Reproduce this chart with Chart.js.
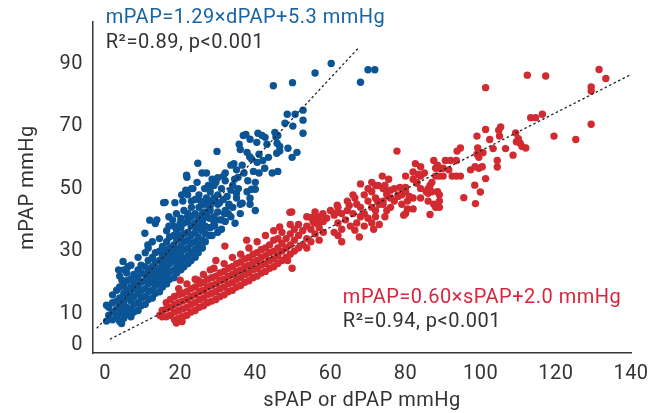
<!DOCTYPE html>
<html>
<head>
<meta charset="utf-8">
<script src="https://cdn.jsdelivr.net/npm/chart.js@4"></script>
<style>
  html, body { margin: 0; padding: 0; background: #fff; }
  #wrap { width: 662px; height: 413px; position: relative; }
</style>
</head>
<body>
<div id="wrap"><canvas id="myChart"></canvas></div>
<script>
// 축 눈금
const xTicks = [0, 20, 40, 60, 80, 100, 120, 140];
const yTicks = [0, 10, 30, 50, 70, 90];

// dPAP vs mPAP (파란 점)
const dpapPoints = [
	// 위쪽 이상치
	[60.2,90],[55.9,87],[68,84],[70,88],[71.8,88],[44.8,82.9],[49.9,83.9],
	[52.7,75.1],[50.6,73.8],[48.5,73.8],[52.7,71.9],[47.9,70.9],[50,70],[52.7,67.7],
	[45.2,68],[46,67],[45.5,66.5],[40.7,67.7],[42.6,66.4],[41.8,67],[36.8,67],[37.5,67.3],
	[35.7,64.2],[38.6,65.8],[40.4,64.8],[43.1,64.2],[46.5,63.5],[46.5,62],[45.8,64.5],
	[48.7,62.9],[51.1,61.6],[49.8,60],[45.7,61.3],[29.8,61.9],[24.7,58.1],
	[37.8,61.6],[39,59.5],[40.5,58.4],[42,59],[43.5,60],[41,61],[38.5,60.2],[36,62.5],
	[34.3,58],[33.5,57.5],[32,55],[25.8,55],[27,55],[21.8,53.6],[35,56],[36.5,57.5],
	[37,55],[39.5,55.5],[41,55],[44.5,55],[46,55.5],[35.4,53.6],[38,52.5],[40,52],[42.5,56.5],
	// 중간 영역
	[26,45],[27,47],[28,49],[28.5,46],[29,51],[30,48],[30.5,45.5],[31,50],[32,52.5],
	[32.5,47.5],[33,45],[33.5,49.5],[34,51],[35,47],[35.5,50],[36.5,45.3],[29.5,52],
	[31.5,46.5],[34.5,53],[27.5,51],[20.7,46],[22,48],[23,50],[24,46.5],[21.5,49.5],
	[16,45.6],[39,49.8],[40,49.8],[38.6,46.9],[40,43],[35,48.5],[37.8,49],[30,53.5],
	[15.6,45.5],[18.6,45.5],[28,44.5],[30,45],[33,44.5],[36,45],[38.6,45],[31.5,54],
	[34.6,38.9],[32.8,42],[13.4,38.8],[13.8,40],[10.6,35.7],[11.4,32],[11.9,39.9],
	[21.7,54.3],[20.4,48],[23.4,50],[25,48],[26.5,50],[24.5,52],[28.5,53],
	[17,38],[18,40],[19,42],[20,39],[21,43],[22,41],[23,44],[24,42],[25,44],
	[26,40],[27,42],[28,43],[29,41],[30,42.5],[31,40],[24,38],[22,36],[20,35],
	[19,37],[17,41],[27,45],[31,37],[32,39.5],[33.5,41],[29,39],[30,36],[28,37.5],
	[25.5,38],[26.5,42.5],[23,46],[25.5,46],[29,47],[32,43],[34,44],[36,42],
	// 아래쪽 밀집 영역
	[0.4,7.6],[0.4,12.7],[3.6,24],[4.8,26.7],[6.1,25],[4.5,20.7],[5.3,9.5],[4.4,6.8],
	[1,9.5],[1,12],
	[2,8],[2,10.5],[2,13.5],[2,16],
	[3.1,9],[3.1,11.5],[3.1,14],[3.1,17.5],
	[3.9,7.5],[3.9,10],[3.9,12.5],[3.9,15],[3.9,18.5],[3.9,22],
	[5,8.5],[5,11],[5,13.5],[5,16.5],[5,19],[5,24],
	[5.8,10],[5.8,12],[5.8,15],[5.8,17.5],[5.8,20.5],[5.8,23],
	[6.9,9],[6.9,11.5],[6.9,14],[6.9,16],[6.9,18.5],[6.9,21],[6.9,25.5],
	[7.7,10.5],[7.7,13],[7.7,15.5],[7.7,18],[7.7,20],[7.7,22.5],
	[8.8,11],[8.8,13.5],[8.8,16.5],[8.8,19],[8.8,21.5],[8.8,24],[8.8,28],
	[9.6,12.5],[9.6,15],[9.6,17.5],[9.6,20],[9.6,23],[9.6,25.5],
	[10.7,13],[10.7,15.5],[10.7,18],[10.7,20.5],[10.7,22.5],[10.7,25],[10.7,29.5],
	[11.5,14.5],[11.5,17],[11.5,19.5],[11.5,21.5],[11.5,24],[11.5,27],[11.5,31],
	[12.6,15],[12.6,17.5],[12.6,20],[12.6,22.5],[12.6,25],[12.6,28],[12.6,33],
	[13.4,16.5],[13.4,19],[13.4,21],[13.4,23.5],[13.4,26.5],[13.4,29.5],
	[14.5,17],[14.5,19.5],[14.5,22],[14.5,24.5],[14.5,27],[14.5,30],[14.5,34],
	[15.3,18.5],[15.3,21],[15.3,23.5],[15.3,26],[15.3,28.5],[15.3,31.5],
	[16.4,19.5],[16.4,22],[16.4,24.5],[16.4,27.5],[16.4,30],[16.4,33],[16.4,36.5],
	[17.2,21],[17.2,23.5],[17.2,26],[17.2,28.5],[17.2,31],[17.2,34.5],
	[18.3,21.5],[18.3,24],[18.3,27],[18.3,29.5],[18.3,32],[18.3,35],[18.3,38],
	[19.1,23],[19.1,25.5],[19.1,28],[19.1,30.5],[19.1,33.5],[19.1,36.5],
	[20.2,24],[20.2,26.5],[20.2,29],[20.2,31.5],[20.2,34],[20.2,37.5],[20.2,40.5],
	[21,25],[21,27.5],[21,30.5],[21,33],[21,35.5],[21,39],
	[22.1,26],[22.1,28.5],[22.1,31],[22.1,33.5],[22.1,36],[22.1,39.5],[22.1,42],
	[22.9,27],[22.9,29.5],[22.9,32.5],[22.9,35],[22.9,38],[22.9,41],
	[24,28],[24,30.5],[24,33],[24,36],[24,39],
	[24.8,29.5],[24.8,32],[24.8,34.5],[24.8,37.5],[24.8,40.5],
	[25.9,31],[25.9,33.5],[25.9,36.5],[25.9,39],[25.9,42],
	[26.7,33],[26.7,35.5],[26.7,38],[26.7,41],
	[27.8,35],[27.8,37.5],[27.8,40.5],[27.8,43],
	[28.5,35],[29.2,38],[30.5,40],[31.8,42]
];

// sPAP vs mPAP (빨간 점)
const spapPoints = [
	// 위쪽 흩어진 점
	[131.5,88.1],[133.3,85.2],[129.4,82.5],[129.4,81.2],[112.4,86.3],[117.3,86],[101.3,82.3],
	[129.4,70.6],[125.3,65.7],[119.5,66.8],[116.4,73.8],[114.6,72.7],[113.3,72.7],
	[109.3,67.8],[110,66],[110.5,64.5],[111,63.5],[112,63],[109.5,65],
	[105.3,69.7],[104.8,68.7],[105,66.8],[101.3,68.9],[102.4,65.7],[103.3,62.8],[106.6,62.8],[108.6,60.7],
	[99,66.8],[99.2,63],[99,61],[99.5,60],[100.6,61.5],
	[104.4,59],[104.4,56.9],[101.3,53.2],[99.9,48.9],[98.4,51.1],[98.6,45.2],[95.5,47.1],[93.7,62],[94.6,63],
	[97.3,56],[98.5,57],[99.5,56.5],[100.4,57],[90.6,59],[92,59],[93.5,59],[90,56.5],[91.5,56],[89,56.5],[88,56.5],
	[92.4,54],[93.5,54],[94.6,54],[87.5,59],[88.5,57.5],[90,54],[88,54],[89,54],
	[77.7,62],[82.6,58],[82,55.3],[83.4,54.5],[82,53],[83,51.7],
	[73.8,54],[75.5,53],[80,54],[74.5,51],[78.5,50.4],[80,50.4],
	[86,50],[87,49],[88.5,49],[89,48],[89,46],[87.5,45],[88,44],[89,44],[86,46],[84,47],
	[82,47],[80.5,46],[79,45],[80.5,43.5],[82,43.5],[78,48],[76,47],[75,48],[74,46],[76,44],
	[75,43],[74,45],[74.5,41],[80,42],[86.5,41.7],
	[84,57],[84,54],[83,52],[84,50],[85.5,49],[86.5,51],[86,48.5],[87,52],[85,55],
	[71,52],[72,51],[71,49],[72,47],[72.5,46],[73,45],[74,50],[75,49],[77,50],[78,47.5],
	[77,46],[76,49.5],[79,48],[80,49],[81,47.5],
	[68,51.5],[70,50],[72.7,51],[69,48],[66.5,47],[67,45],[68,44],[70,46],[71,44],[72,43],
	[69,42],[70,40.5],[71,39],[68,41],[66,42],[67,39],[69,38],[71.5,37],[73,38.5],[66.5,36.7],
	[67.7,34.5],[72,41],
	[65,44.6],[64.5,43],[63,42],[62,44],[61,41.5],[60,43],[59,40.5],[58,42],[57,39],[56,41],
	[55.4,39.3],[54.6,40.8],[62,39],[64,40],[63,37],[61,36],[62,35],[65.3,38],[63,33],
	[61.8,42.4],[61.8,44.7],[64.5,46],[66,48],[49.2,42.4],[49.7,42.5],[79.5,41.5],
	[46.5,37.7],[37.7,33.5],[31.9,31.6],[49.8,24.5],[48.6,27],[53.7,31],
	[14.6,9.5],[19,7],[20,8.5],[20.5,7.5],[20,20.7],[24.8,20.7],[29,24.5],[28,24],
	// 아래쪽 밀집 띠
	[15.2,9],[15.2,11],
	[16.3,9],[16.3,11.5],[16.3,13.5],
	[17.4,9.5],[17.4,12],[17.4,14.5],
	[18.5,8],[18.5,10.5],[18.5,13],[18.5,15.5],
	[19.6,8.5],[19.6,11],[19.6,13.5],[19.6,16],[19.6,18],
	[20.7,9],[20.7,11.5],[20.7,14],[20.7,16.5],
	[21.8,9.5],[21.8,12],[21.8,14.5],[21.8,17],[21.8,19.5],
	[22.9,10.5],[22.9,13],[22.9,15.5],[22.9,18],
	[24,11],[24,13.5],[24,16],[24,18.5],[24,21],
	[25.1,12],[25.1,14.5],[25.1,17],[25.1,19.5],
	[26.2,12.5],[26.2,15],[26.2,17.5],[26.2,20],[26.2,22.5],
	[27.3,13.5],[27.3,16],[27.3,18.5],[27.3,21],
	[28.4,14],[28.4,16.5],[28.4,19],[28.4,21.5],
	[29.5,14.5],[29.5,17],[29.5,19.5],[29.5,22],[29.5,27],
	[30.6,15.5],[30.6,18],[30.6,20.5],[30.6,23],
	[31.7,16],[31.7,18.5],[31.7,21],[31.7,23.5],[31.7,26],
	[32.8,17],[32.8,19.5],[32.8,22],[32.8,24.5],
	[33.9,17.5],[33.9,20],[33.9,22.5],[33.9,25],[33.9,28],
	[35,18.5],[35,21],[35,23.5],[35,26],
	[36.1,19],[36.1,21.5],[36.1,24],[36.1,26.5],[36.1,29],
	[37.2,20],[37.2,22.5],[37.2,25],[37.2,27.5],
	[38.3,20.5],[38.3,23],[38.3,25.5],[38.3,28],[38.3,31],
	[39.4,21.5],[39.4,24],[39.4,26.5],[39.4,29],
	[40.5,22],[40.5,24.5],[40.5,27],[40.5,29.5],[40.5,33],
	[41.6,23],[41.6,25.5],[41.6,28],[41.6,30.5],
	[42.7,23.5],[42.7,26],[42.7,28.5],[42.7,31],[42.7,35],
	[43.8,24.5],[43.8,27],[43.8,29.5],[43.8,32],
	[44.9,25],[44.9,27.5],[44.9,30],[44.9,33.5],[44.9,36.5],
	[46,26],[46,28.5],[46,31],[46,34],
	[47.1,27],[47.1,30],[47.1,32.5],[47.1,36],
	[48.2,28],[48.2,31],[48.2,34],
	[49.3,29],[49.3,32],[49.3,35.5],[49.3,38.5],
	[50.4,30],[50.4,33.5],[50.4,37],
	[51.5,31],[51.5,35],[51.5,38.5],
	[52.6,32],[52.6,36.5],
	[53.7,34],[53.7,38],[53.7,41],
	[54.8,33],[54.8,37],
	[55.9,35.5],[55.9,39],[55.9,42.5],
	[57,33.5],[57,37.5],[57,41],
	[58.1,36],[58.1,39.5]
];

// 회귀선 양 끝점
const dpapFit = [[-2.2, 5.3], [67.7, 95.3]];
const spapFit = [[1.3, 1.8], [140, 86.5]];

// 회귀식 텍스트
const dpapEq = "mPAP=1.29×dPAP+5.3 mmHg";
const dpapStat = "R²=0.89, p<0.001";
const spapEq = "mPAP=0.60×sPAP+2.0 mmHg";
const spapStat = "R²=0.94, p<0.001";

const BLUE = "#0b5495";
const RED = "#d12a30";
const FONT = "Roboto";
const SPACING = "0.5px";

function toXY(arr) {
	return arr.map(p => ({ x: p[0], y: p[1] }));
}

// 글자 간격
const spacing = {
	id: "spacing",
	beforeLayout(chart) { chart.ctx.letterSpacing = SPACING; },
	beforeDraw(chart) { chart.ctx.letterSpacing = SPACING; }
};

// 회귀식 그리기 플러그인
const eqLabels = {
	id: "eqLabels",
	afterDraw(chart) {
		const c = chart.ctx;
		const xs = chart.scales.x, ys = chart.scales.y;
		c.save();
		c.letterSpacing = SPACING;
		c.font = "20px " + FONT;
		c.textAlign = "left";
		c.textBaseline = "middle";
		let bx = xs.getPixelForValue(0.2);
		let by = ys.getPixelForValue(0) - 327;
		c.fillStyle = "#1a64a3";
		c.fillText(dpapEq, bx, by);
		c.fillStyle = "#333";
		c.fillText(dpapStat, bx, by + 25);

		let rx = xs.getPixelForValue(63.3);
		let ry = ys.getPixelForValue(15);
		c.fillStyle = "#d9263f";
		c.fillText(spapEq, rx, ry);
		c.fillStyle = "#333";
		c.fillText(spapStat, rx, ry + 24);
		c.restore();
	}
};

var ctx = document.getElementById("myChart");

var config = {
	type: "scatter",
	data: {
		datasets: [{
			data: toXY(dpapFit),
			showLine: true,
			borderColor: "#222",
			borderWidth: 1.3,
			borderDash: [2.5, 2.5],
			pointRadius: 0,
			order: 0
		}, {
			data: toXY(spapFit),
			showLine: true,
			borderColor: "#222",
			borderWidth: 1.3,
			borderDash: [2.5, 2.5],
			pointRadius: 0,
			order: 0
		}, {
			label: "dPAP",
			data: toXY(dpapPoints),
			backgroundColor: BLUE,
			borderWidth: 0,
			pointRadius: 3.7,
			order: 1
		}, {
			label: "sPAP",
			data: toXY(spapPoints),
			backgroundColor: RED,
			borderWidth: 0,
			pointRadius: 3.7,
			order: 1
		}]
	},
	options: {
		responsive: true,
		maintainAspectRatio: false,
		animation: false,
		layout: { padding: { left: 0, right: 31, top: 22, bottom: 0 } },
		plugins: {
			legend: { display: false },
			tooltip: { enabled: false }
		},
		scales: {
			x: {
				min: -3.2,
				max: 140,
				afterBuildTicks: (s) => { s.ticks = xTicks.map(v => ({ value: v })); },
				afterFit: (s) => { s.height = 60; },
				grid: { display: false, drawOnChartArea: false, drawTicks: true, tickLength: 6, tickColor: "#333", tickWidth: 1.5 },
				border: { color: "#333", width: 1.5 },
				ticks: { color: "#333", font: { family: FONT, size: 20 }, padding: 3, maxRotation: 0 },
				title: { display: true, text: "sPAP or dPAP mmHg", color: "#333", font: { family: FONT, size: 20 }, padding: { top: 0, bottom: 0 } }
			},
			y: {
				min: -2.6,
				max: 103.3,
				afterBuildTicks: (s) => { s.ticks = yTicks.map(v => ({ value: v })); },
				afterFit: (s) => { s.width = 93; },
				grid: { display: false, drawOnChartArea: false, drawTicks: true, tickLength: 7, tickColor: "#333", tickWidth: 1.5 },
				border: { color: "#333", width: 1.5 },
				ticks: { color: "#333", font: { family: FONT, size: 20 }, padding: 3 },
				title: { display: true, text: "mPAP mmHg", color: "#333", font: { family: FONT, size: 20 }, padding: { top: 16, bottom: 0 } }
			}
		}
	},
	plugins: [spacing, eqLabels]
};

var myChart = new Chart(ctx, config);
</script>
</body>
</html>
